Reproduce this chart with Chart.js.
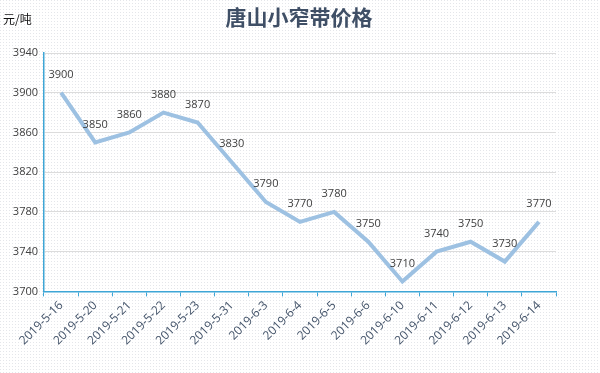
<!DOCTYPE html>
<html>
<head>
<meta charset="utf-8">
<script src="https://cdn.jsdelivr.net/npm/chart.js@4/dist/chart.umd.min.js"></script>
<style>
  html, body { margin: 0; padding: 0; background: #fff; }
  #wrap { width: 600px; height: 373px; position: relative; }
</style>
</head>
<body>
<div id="wrap"><canvas id="c" width="600" height="373"></canvas></div>
<script>
const dates = ['2019-5-16', '2019-5-20', '2019-5-21', '2019-5-22', '2019-5-23', '2019-5-31', '2019-6-3',
    '2019-6-4', '2019-6-5', '2019-6-6', '2019-6-10', '2019-6-11', '2019-6-12', '2019-6-13', '2019-6-14'];
const prices = [3900, 3850, 3860, 3880, 3870, 3830, 3790, 3770, 3780, 3750, 3710, 3740, 3750, 3730, 3770];
const yMin = 3700;
const yMax = 3940;
const yStep = 40;

const titleText = '唐山小窄带价格';
const unitText = '元/吨';

const axisBlue = '#3ea6d6';
const font = '"Open Sans", "Noto Sans CJK SC", sans-serif';

// dotted paper background + title + unit label
const paper = {
    id: 'paper',
    beforeDraw(chart) {
        const ctx = chart.ctx;
        const p = document.createElement('canvas');
        p.width = 3; p.height = 3;
        const pc = p.getContext('2d');
        pc.fillStyle = '#ffffff';
        pc.fillRect(0, 0, 3, 3);
        pc.fillStyle = '#e4e6ea';
        pc.fillRect(0, 0, 1, 1);
        ctx.save();
        ctx.fillStyle = ctx.createPattern(p, 'repeat');
        ctx.fillRect(0, 0, chart.width, chart.height);
        ctx.restore();
    },
    afterDraw(chart) {
        const ctx = chart.ctx;
        ctx.save();
        ctx.fillStyle = '#3f4f66';
        ctx.font = 'bold 21px "Noto Sans CJK SC", sans-serif';
        ctx.textAlign = 'center';
        ctx.textBaseline = 'middle';
        ctx.fillText(titleText, 299, 17);
        ctx.fillStyle = '#111';
        ctx.font = '12px "Noto Sans CJK SC", sans-serif';
        ctx.textAlign = 'left';
        ctx.fillText(unitText, 3, 19);
        ctx.restore();
    }
};

// value labels above each point
const valueLabels = {
    id: 'valueLabels',
    afterDatasetsDraw(chart) {
        const ctx = chart.ctx;
        const meta = chart.getDatasetMeta(0);
        ctx.save();
        ctx.fillStyle = '#404040';
        ctx.font = '11px ' + font;
        ctx.textAlign = 'center';
        ctx.textBaseline = 'middle';
        meta.data.forEach((pt, i) => {
            ctx.fillText(String(prices[i]), pt.x, pt.y - 18);
        });
        ctx.restore();
    }
};

new Chart(document.getElementById('c'), {
    type: 'line',
    data: {
        labels: dates,
        datasets: [{
            data: prices,
            borderColor: '#9dc1e2',
            borderWidth: 4,
            pointRadius: 0,
            pointHoverRadius: 0,
            tension: 0,
            fill: false
        }]
    },
    options: {
        responsive: false,
        animation: false,
        layout: { padding: { top: 53, right: 44, bottom: 23, left: 0 } },
        plugins: {
            legend: { display: false },
            tooltip: { enabled: false }
        },
        scales: {
            x: {
                offset: true,
                grid: {
                    offset: true,
                    drawOnChartArea: false,
                    drawTicks: true,
                    tickLength: 5,
                    color: axisBlue,
                    lineWidth: 1
                },
                border: { color: axisBlue, width: 1.5 },
                ticks: {
                    color: '#44546a',
                    font: { family: font, size: 12 },
                    maxRotation: 45,
                    minRotation: 45,
                    autoSkip: false,
                    padding: 2
                }
            },
            y: {
                min: yMin,
                max: yMax,
                afterFit(scale) { scale.width = 44; },
                grid: {
                    color: '#dcdcdc',
                    drawTicks: false,
                    lineWidth: 1
                },
                border: { color: axisBlue, width: 1.5 },
                ticks: {
                    stepSize: yStep,
                    color: '#404040',
                    font: { family: font, size: 11 },
                    padding: 6,
                    callback: (v) => String(v)
                }
            }
        }
    },
    plugins: [paper, valueLabels]
});
</script>
</body>
</html>
